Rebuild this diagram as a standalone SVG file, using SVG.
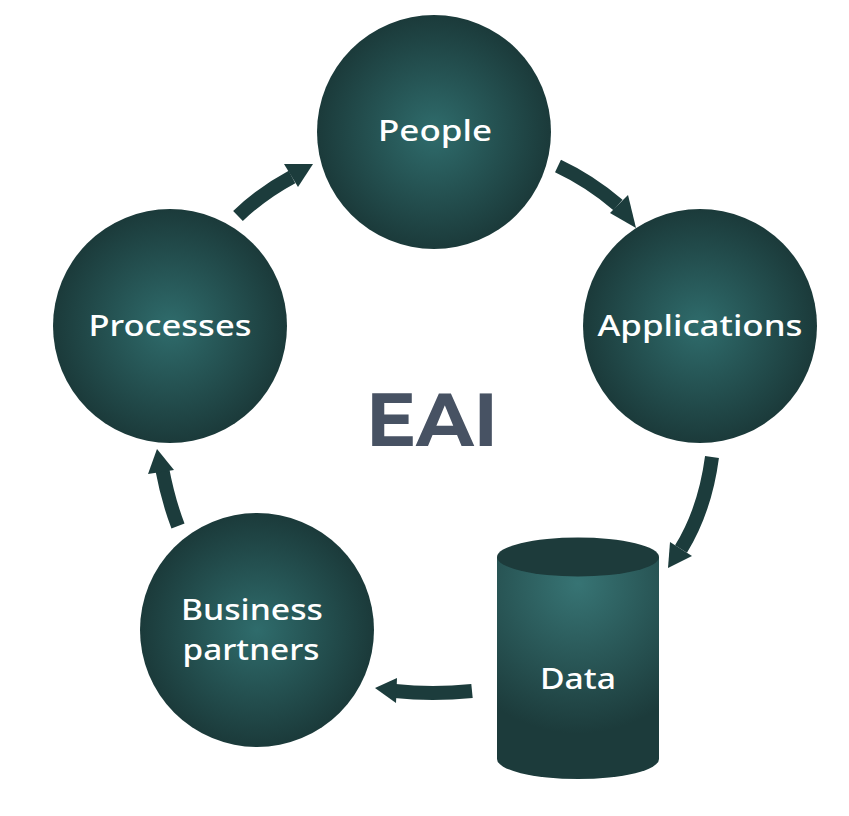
<svg xmlns="http://www.w3.org/2000/svg" width="849" height="816" viewBox="0 0 849 816">
<defs>
<radialGradient id="gc" cx="50%" cy="50%" r="50%">
<stop offset="0" stop-color="#2f6c6c"/>
<stop offset="1" stop-color="#1b3a3a"/>
</radialGradient>
<radialGradient id="gcyl" cx="50%" cy="12%" r="90%" gradientTransform="translate(0.5 0.12) scale(1 0.75) translate(-0.5 -0.12)">
<stop offset="0" stop-color="#377474"/>
<stop offset="1" stop-color="#1c3b3b"/>
</radialGradient>
<style>
.node{fill:url(#gc);}
.lbl{font-family:"Noto Sans","Open Sans","DejaVu Sans",sans-serif;font-size:29px;fill:#ffffff;text-anchor:middle;font-weight:500;}
.shaft{fill:none;stroke:#1c3c3c;stroke-width:14;}
.head{fill:#1c3c3c;}
</style>
</defs>
<rect width="849" height="816" fill="#ffffff"/>
<g id="connectors">
<path class="shaft" d="M238,216 Q262,193 292,177"/>
<polygon class="head" points="284,164 313,164 298,187"/>
<path class="shaft" d="M558,166 Q590,181 618,205"/>
<polygon class="head" points="610,213 628,195 636,228"/>
<path class="shaft" d="M712,457 Q705,510 681,549"/>
<polygon class="head" points="670,542 692,556 668,568"/>
<path class="shaft" d="M472,691 Q432,695 395,691"/>
<polygon class="head" points="397,678 396,703 375,688"/>
<path class="shaft" d="M178,526 Q168,500 162,468"/>
<polygon class="head" points="148,474 174,470 157,449"/>
</g>
<g id="people">
<circle class="node" cx="434" cy="132" r="117"/>
<text class="lbl" x="435" y="141" textLength="114" lengthAdjust="spacingAndGlyphs">People</text>
</g>
<g id="applications">
<circle class="node" cx="700" cy="326" r="117"/>
<text class="lbl" x="700" y="336" textLength="205" lengthAdjust="spacingAndGlyphs">Applications</text>
</g>
<g id="processes">
<circle class="node" cx="170" cy="326" r="117"/>
<text class="lbl" x="170" y="336" textLength="163" lengthAdjust="spacingAndGlyphs">Processes</text>
</g>
<g id="business-partners">
<circle class="node" cx="257" cy="630" r="117"/>
<text class="lbl" x="252" y="620" textLength="142" lengthAdjust="spacingAndGlyphs">Business</text>
<text class="lbl" x="251" y="660" textLength="137" lengthAdjust="spacingAndGlyphs">partners</text>
</g>
<g id="data">
<path d="M497,557 L497,759 A81,20 0 0 0 659,759 L659,557 Z" fill="url(#gcyl)"/>
<ellipse cx="578" cy="557" rx="81" ry="19.5" fill="#1d3b3b"/>
<text class="lbl" x="578" y="689" textLength="76" lengthAdjust="spacingAndGlyphs">Data</text>
</g>
<g id="eai">
<text x="432" y="446" font-family="Montserrat,'Noto Sans','Open Sans','DejaVu Sans',sans-serif" font-size="74" font-weight="bold" fill="#475263" text-anchor="middle" textLength="132" lengthAdjust="spacingAndGlyphs">EAI</text>
</g>
</svg>
